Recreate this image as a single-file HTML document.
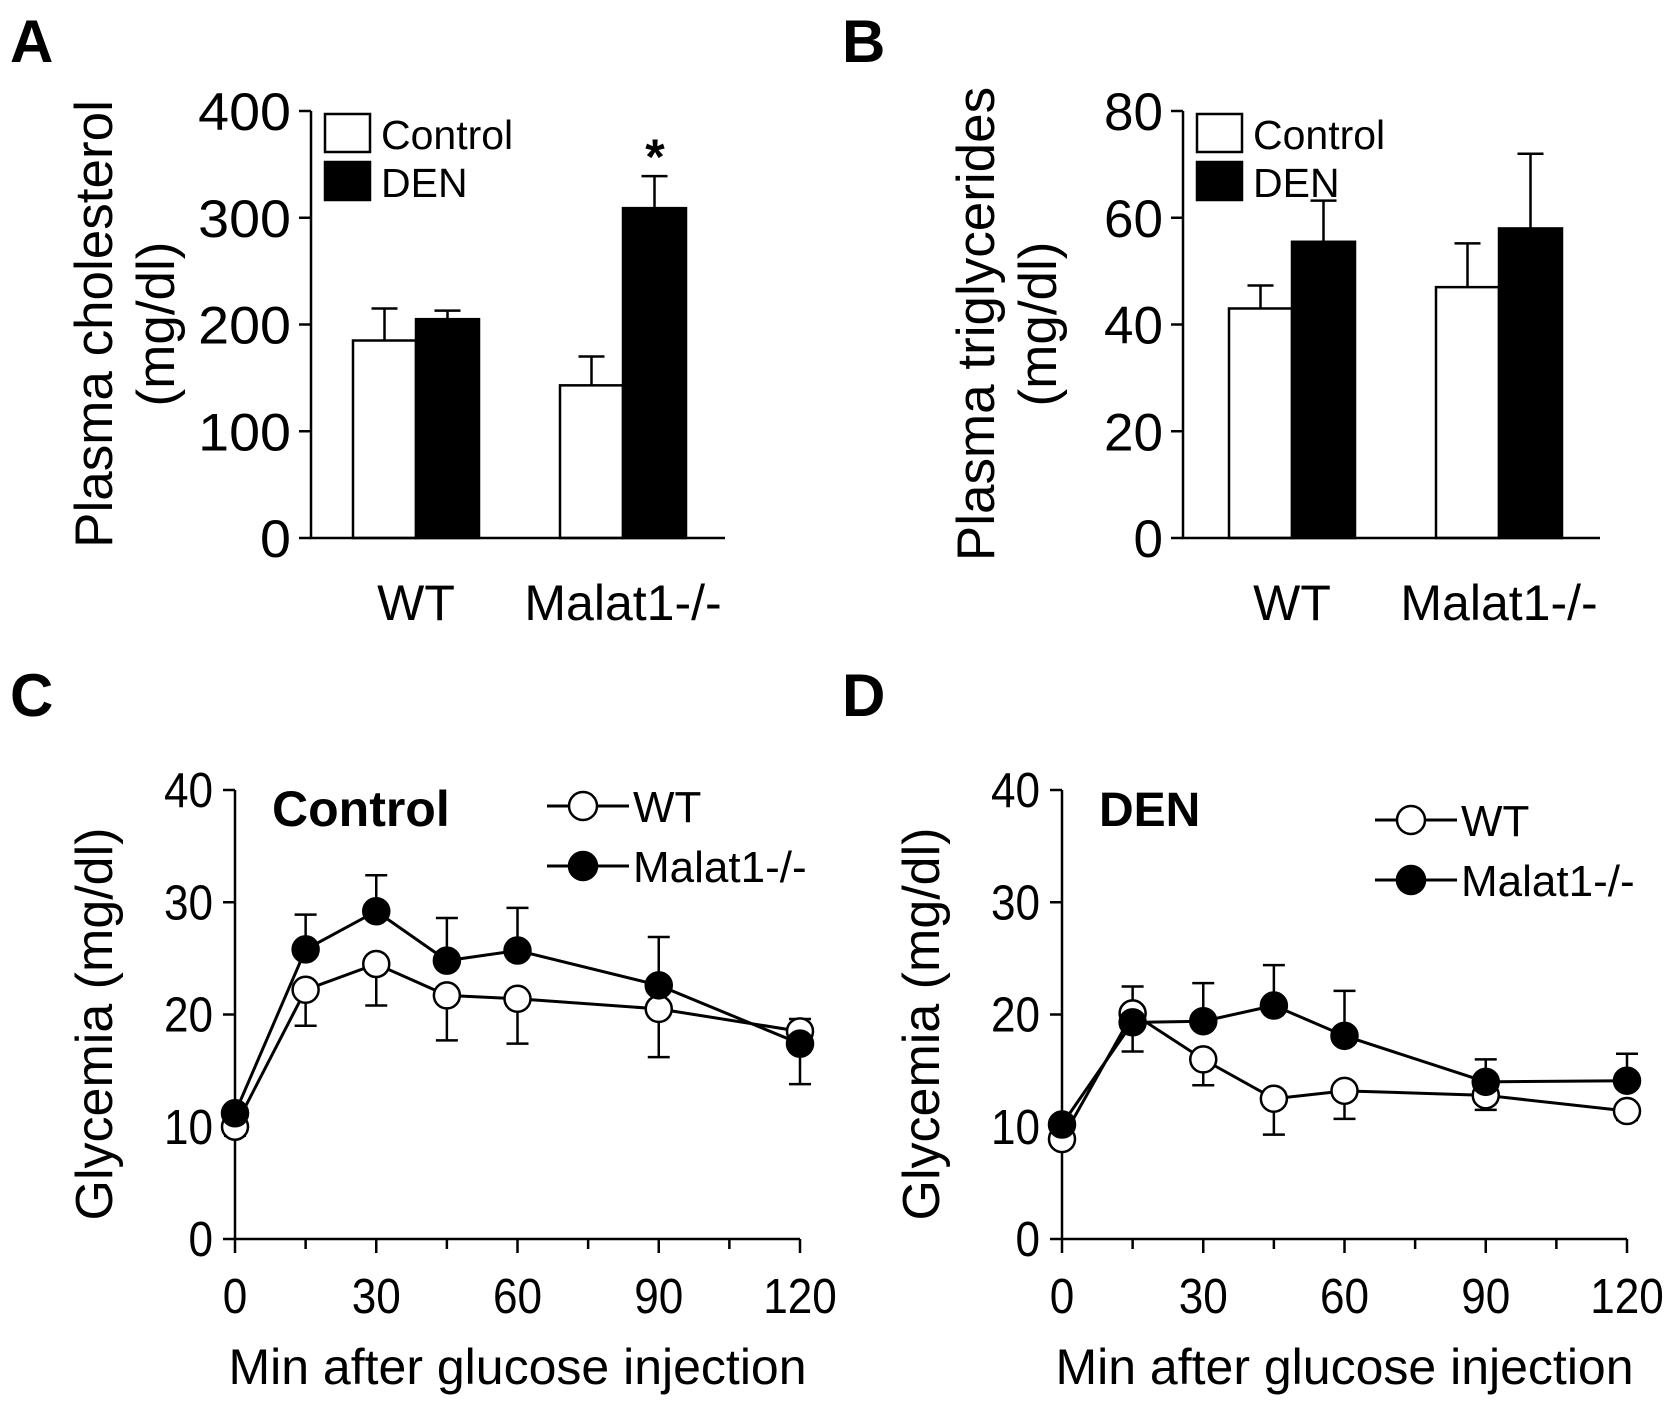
<!DOCTYPE html>
<html><head><meta charset="utf-8"><style>
html,body{margin:0;padding:0;background:#fff}
svg{display:block;font-family:"Liberation Sans",Arial,sans-serif}
</style></head><body>
<svg id="fig" width="1677" height="1408" viewBox="0 0 1677 1408"></svg>
<script>
// Panel A data
const barGroups = ["WT", "Malat1-/-"];
const cholCtrl = [185, 143];
const cholCtrlErr = [30, 27];
const cholDen = [205, 309];
const cholDenErr = [8, 30];
const cholTicks = [0, 100, 200, 300, 400];
// Panel B data
const trigCtrl = [43, 47];
const trigCtrlErr = [4.3, 8.2];
const trigDen = [55.5, 58];
const trigDenErr = [7.7, 14];
const trigTicks = [0, 20, 40, 60, 80];
// Panels C, D
const times = [0, 15, 30, 45, 60, 90, 120];
const glyTicksY = [0, 10, 20, 30, 40];
const glyTicksX = [0, 30, 60, 90, 120];
const minorX = [15, 45, 75, 105];
const ctrlWT = [10, 22.2, 24.5, 21.7, 21.4, 20.5, 18.5];
const ctrlWTErr = [-0.8, -3.2, -3.7, -4, -4, -4.3, 1.1];
const ctrlKO = [11.2, 25.8, 29.2, 24.8, 25.7, 22.6, 17.4];
const ctrlKOErr = [0, 3.1, 3.2, 3.8, 3.8, 4.3, -3.6];
const denWT = [8.9, 20.1, 16, 12.5, 13.2, 12.8, 11.4];
const denWTErr = [0, 2.4, -2.3, -3.2, -2.5, -1.3, -0.8];
const denKO = [10.2, 19.3, 19.4, 20.8, 18.1, 14, 14.1];
const denKOErr = [0, -2.6, 3.4, 3.6, 4, 2, 2.4];

const NS = "http://www.w3.org/2000/svg";
const svg = document.getElementById("fig");
function el(tag, attrs, parent) {
  const e = document.createElementNS(NS, tag);
  for (const k in attrs) e.setAttribute(k, attrs[k]);
  (parent || svg).appendChild(e);
  return e;
}
function txt(s, x, y, size, anchor, parent, weight, sx) {
  const t = el("text", {x: 0, y: 0, "font-size": size, "text-anchor": anchor || "start", fill: "#000",
    transform: `translate(${x},${y}) scale(${sx || 1},1)`}, parent);
  if (weight) t.setAttribute("font-weight", weight);
  t.textContent = s;
  return t;
}
function letter(s, x, y) {
  const t = txt(s, x, y, 60, "start", svg, "bold");
  
  
}

function barPanel(cfg) {
  const g = el("g", {});
  
  
  const y = v => cfg.y0 - (v / cfg.max) * (cfg.y0 - cfg.yTop);
  for (let i = 0; i < barGroups.length; i++) {
    const cx = cfg.groupX[i];
    const w = cfg.barW;
    const c = el("rect", {x: cx - w, y: y(cfg.ctrl[i]), width: w, height: cfg.y0 - y(cfg.ctrl[i]), fill: "#fff", stroke: "#000", "stroke-width": 2.5}, g);
    
    
    const d = el("rect", {x: cx, y: y(cfg.den[i]), width: w, height: cfg.y0 - y(cfg.den[i]), fill: "#000", stroke: "#000", "stroke-width": 2.5}, g);
    
    
    const ex1 = cx - w / 2, ex2 = cx + w / 2;
    const e1 = el("path", {d: `M${ex1},${y(cfg.ctrl[i])}V${y(cfg.ctrl[i] + cfg.ctrlErr[i])}M${ex1 - 13},${y(cfg.ctrl[i] + cfg.ctrlErr[i])}H${ex1 + 13}`, stroke: "#000", "stroke-width": 2.5, fill: "none"}, g);
    
    
    const e2 = el("path", {d: `M${ex2},${y(cfg.den[i])}V${y(cfg.den[i] + cfg.denErr[i])}M${ex2 - 13},${y(cfg.den[i] + cfg.denErr[i])}H${ex2 + 13}`, stroke: "#000", "stroke-width": 2.5, fill: "none"}, g);
    
    
    const xl = txt(barGroups[i], cx, 620, 50, "middle", g);
    
    
  }
  const ax = el("path", {d: `M${cfg.ax},${cfg.yTop}V${cfg.y0}H${cfg.axEnd}`, stroke: "#000", "stroke-width": 2.5, fill: "none"}, g);
  
  
  cfg.ticks.forEach(t => {
    el("line", {x1: cfg.ax - 12, x2: cfg.ax, y1: y(t), y2: y(t), stroke: "#000", "stroke-width": 2.5}, g);
    const tl = txt(String(t), cfg.ax - 20, y(t) + 19, 53, "end", g, null, cfg.tickSx);
    
    
  });
  const tg = el("g", {transform: `translate(${cfg.titleX},324) rotate(-90)`}, g);
  
  
  txt(cfg.title, 0, 0, 53, "middle", tg);
  txt("(mg/dl)", 0, 62, 53, "middle", tg);
  const lg = el("g", {}, g);
  
  
  el("rect", {x: cfg.ax + 14, y: 114, width: 45, height: 38, fill: "#fff", stroke: "#000", "stroke-width": 2.5}, lg);
  el("rect", {x: cfg.ax + 14, y: 162, width: 45, height: 38, fill: "#000", stroke: "#000", "stroke-width": 2.5}, lg);
  txt("Control", cfg.ax + 70, 149, 41, "start", lg);
  txt("DEN", cfg.ax + 70, 197, 41, "start", lg);
  return {g, y};
}

letter("A", 10, 62);
const pa = barPanel({name: "panel-a-cholesterol", y0: 538, yTop: 111, max: 400, ax: 311, axEnd: 725, groupX: [416, 623], barW: 63, tickSx: 1.05,
  ctrl: cholCtrl, ctrlErr: cholCtrlErr, den: cholDen, denErr: cholDenErr, ticks: cholTicks, title: "Plasma cholesterol", titleX: 112});
const star = txt("*", 655, pa.y(cholDen[1] + cholDenErr[1]) - 2, 50, "middle", pa.g, "bold");



letter("B", 842, 62);
barPanel({name: "panel-b-triglycerides", y0: 538, yTop: 111, max: 80, ax: 1183, axEnd: 1600, groupX: [1292, 1499], barW: 63, tickSx: 1,
  ctrl: trigCtrl, ctrlErr: trigCtrlErr, den: trigDen, denErr: trigDenErr, ticks: trigTicks, title: "Plasma triglycerides", titleX: 994});

function linePanel(cfg) {
  const g = el("g", {});
  
  
  const y0 = 1239, yTop = 790;
  const y = v => y0 - v / 40 * (y0 - yTop);
  const x = t => cfg.x0 + t / 120 * (cfg.x1 - cfg.x0);
  const ax = el("path", {d: `M${cfg.x0},${yTop}V${y0}H${cfg.x1}`, stroke: "#000", "stroke-width": 2.5, fill: "none"}, g);
  
  
  glyTicksY.forEach(t => {
    el("line", {x1: cfg.x0 - 12, x2: cfg.x0, y1: y(t), y2: y(t), stroke: "#000", "stroke-width": 2.5}, g);
    const tl = txt(String(t), cfg.x0 - 22, y(t) + 17, 49, "end", g, null, 0.9);
    
    
  });
  glyTicksX.forEach(t => {
    el("line", {x1: x(t), x2: x(t), y1: y0, y2: y0 + 14, stroke: "#000", "stroke-width": 2.5}, g);
    const tl = txt(String(t), x(t), 1313, 49, "middle", g, null, 0.9);
    
    
  });
  minorX.forEach(t => el("line", {x1: x(t), x2: x(t), y1: y0, y2: y0 + 10, stroke: "#000", "stroke-width": 2.5}, g));
  const xt = txt("Min after glucose injection", (cfg.x0 + cfg.x1) / 2, 1384, 50, "middle", g);
  
  
  const tg = el("g", {transform: `translate(${cfg.x0 - 123},1024) rotate(-90)`}, g);
  
  
  txt("Glycemia (mg/dl)", 0, 0, 52, "middle", tg);
  const lbl = txt(cfg.label, cfg.x0 + 37, 826, cfg.labelSize, "start", g, "bold");
  
  
  function series(vals, errs, fill, nm) {
    const sg = el("g", {}, g);
    
    
    vals.forEach((v, i) => {
      if (errs[i] !== 0) {
        const e = v + errs[i];
        el("path", {d: `M${x(times[i])},${y(v)}V${y(e)}M${x(times[i]) - 11},${y(e)}H${x(times[i]) + 11}`, stroke: "#000", "stroke-width": 2.5, fill: "none"}, sg);
      }
    });
    el("polyline", {points: vals.map((v, i) => x(times[i]) + "," + y(v)).join(" "), stroke: "#000", "stroke-width": 3, fill: "none"}, sg);
    vals.forEach((v, i) => {
      const c = el("circle", {cx: x(times[i]), cy: y(v), r: 13, fill: fill, stroke: "#000", "stroke-width": 2.5}, sg);
      
      
    });
  }
  series(cfg.wt, cfg.wtErr, "#fff", "series-wt");
  series(cfg.ko, cfg.koErr, "#000", "series-malat1");
  const lg = el("g", {}, g);
  
  
  [["WT", "#fff", cfg.legY], ["Malat1-/-", "#000", cfg.legY + 60]].forEach(r => {
    el("line", {x1: cfg.legX, x2: cfg.legX + 82, y1: r[2], y2: r[2], stroke: "#000", "stroke-width": 3}, lg);
    el("circle", {cx: cfg.legX + 36, cy: r[2], r: 14, fill: r[1], stroke: "#000", "stroke-width": 2.5}, lg);
    txt(r[0], cfg.legX + 86, r[2] + 16, 44, "start", lg);
  });
}
letter("C", 10, 716);
linePanel({name: "panel-c-control", x0: 235, x1: 800, label: "Control", labelSize: 50, legX: 547, legY: 806, wt: ctrlWT, wtErr: ctrlWTErr, ko: ctrlKO, koErr: ctrlKOErr});
letter("D", 842, 716);
linePanel({name: "panel-d-den", x0: 1062, x1: 1627, label: "DEN", labelSize: 48, legX: 1375, legY: 820, wt: denWT, wtErr: denWTErr, ko: denKO, koErr: denKOErr});
</script>
</body></html>
